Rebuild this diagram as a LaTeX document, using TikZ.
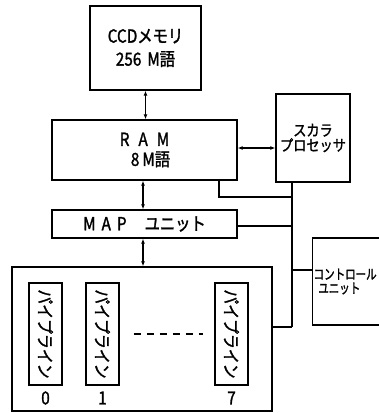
\documentclass[tikz,border=0pt]{standalone}
\usepackage{fontspec}
\setmainfont{Noto Sans CJK JP}
\newfontfamily\cf[FakeStretch=0.85,FakeBold=1.5]{Noto Sans CJK JP}
\newfontfamily\cfn[FakeStretch=0.75,FakeBold=1.5]{Noto Sans CJK JP}
\usetikzlibrary{arrows.meta,calc}
\begin{document}
\begin{tikzpicture}[x=1pt,y=-1pt,line width=1.3pt,
  blk/.style={draw,inner sep=0pt,align=center},
  biarrow/.style={{Latex[length=5pt,width=4pt]}-{Latex[length=5pt,width=4pt]}},
  big/.style={font=\cf\fontsize{18}{23}\selectfont},
  mid/.style={font=\cf\fontsize{15.5}{18}\selectfont},
  small/.style={font=\cfn\fontsize{14}{17}\selectfont},
  digit/.style={font=\cf\fontsize{18}{18}\selectfont}]
\useasboundingbox (0,0) rectangle (379,413);
% boxes
\node[blk,big,minimum width=111pt,minimum height=84pt] (ccd) at (145.5,48) {CCDメモリ\\256\,\,M語};
\node[blk,big,minimum width=185pt,minimum height=60pt] (ram) at (144.5,150) {R\enspace A\enspace M\\[-3pt]\,\,\,\,8\,M語};
\node[blk,mid,minimum width=74pt,minimum height=88pt] (sc) at (313,138) {スカラ\\[-3pt]プロセッサ};
\node[blk,big,minimum width=185pt,minimum height=28pt] (map) at (144.5,224) {M\,\,A\,\,P\quad ユニット};
\node[blk,minimum width=260pt,minimum height=144pt] (outer) at (142,339) {};
\node[blk,minimum width=78pt,minimum height=87pt,anchor=west] (ctrl) at (312,281.5) {};
\node[small,anchor=west,align=left,inner sep=0pt] (ctrlt) at (313,281.5) {コントロール\\[-3pt]\,\,ユニット};
% pipelines
\foreach \n/\x in {p0/45.5,p1/102.5,p7/231.5}{
  \node[blk,minimum width=33pt,minimum height=102pt] (\n) at (\x,334) {};
  \node[rotate=-90,font=\cf\fontsize{17.5}{18}\selectfont] at (\n) {パイプライン};
}
\node[digit] (l0) at (45.5,398) {0};
\node[digit] (l1) at (102.5,398) {1};
\node[digit] (l7) at (231.5,398) {7};
\draw[line width=2.2pt,dash pattern=on 7pt off 6pt] ([xshift=14pt]p1.east) -- ([xshift=-11pt]p7.west);
% arrows
\draw[biarrow] (ccd.south) -- (ccd.south |- ram.north);
\draw[biarrow] ([xshift=-1.5pt]ram.south) -- ([xshift=-1.5pt]ram.south |- map.north);
\draw[biarrow] ([xshift=-1.5pt]map.south) -- ([xshift=-1.5pt]map.south |- outer.north);
\draw[biarrow] ([yshift=2pt]ram.east) -- ([yshift=2pt]ram.east -| sc.west);
% bus
\coordinate (b1) at (292,182);
\coordinate (b2) at (292,197);
\coordinate (b3) at (292,226);
\coordinate (b4) at (292,270);
\coordinate (b5) at (292,327);
\draw (b1) -- (b5);
\draw ([xshift=74.5pt]ram.south) |- (b2);
\draw (map.east |- b3) -- (b3);
\draw (ctrl.west |- b4) -- (b4);
\draw (outer.east |- b5) -- (b5);
\end{tikzpicture}
\end{document}
